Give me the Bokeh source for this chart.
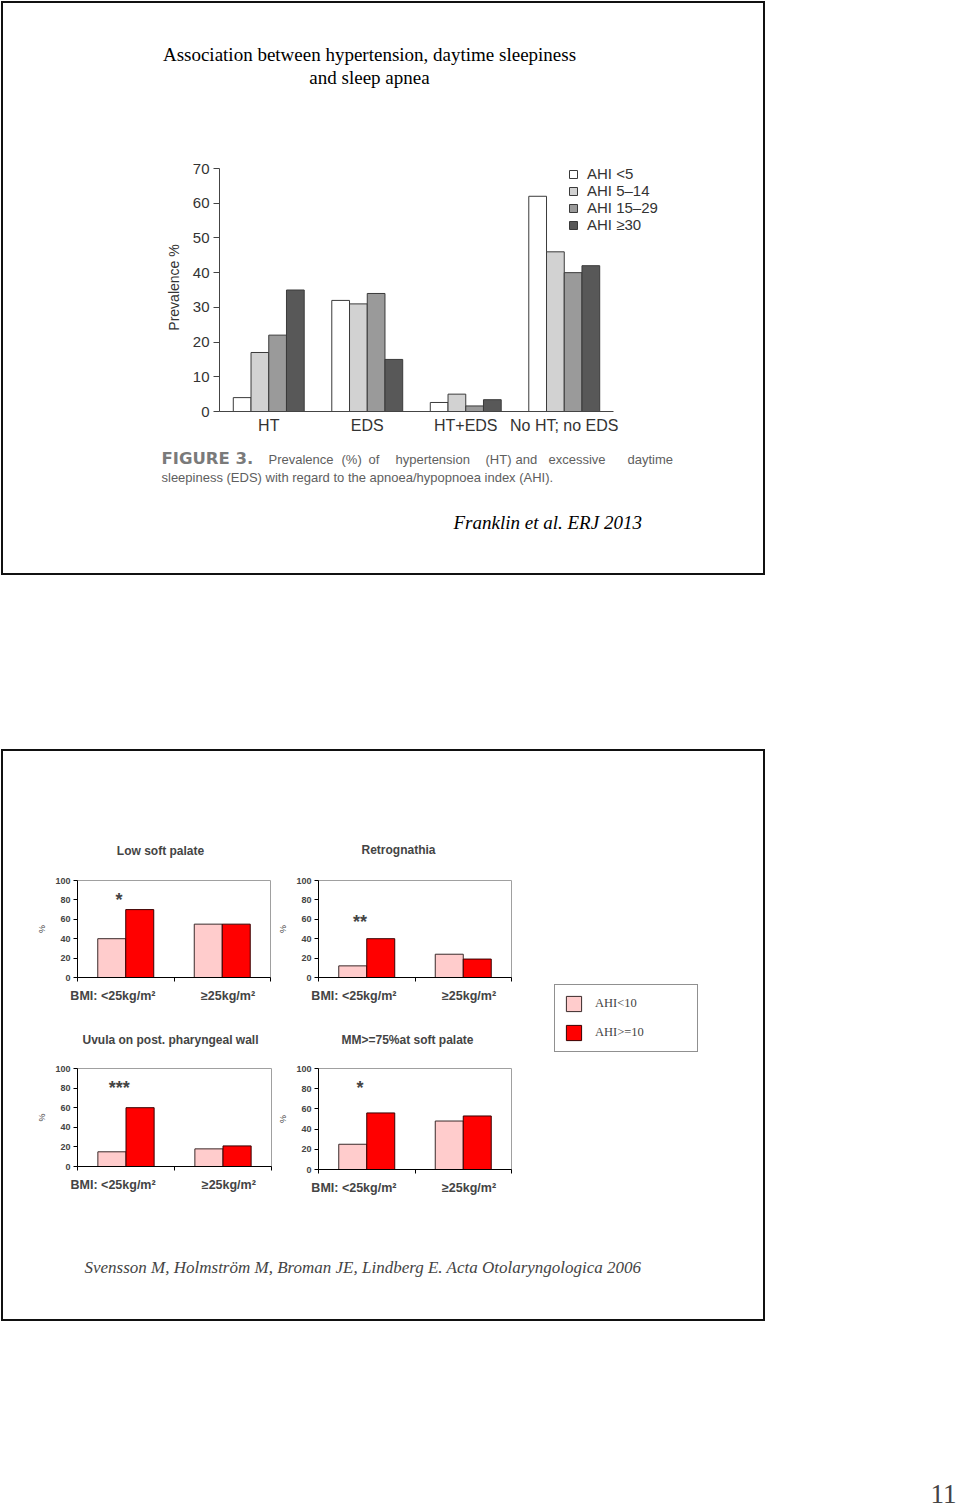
from bokeh.plotting import figure
from bokeh.models import (Range1d, FixedTicker, Label, Legend, LegendItem,
                          ColumnDataSource, Spacer)
from bokeh.layouts import column, row
from bokeh.embed import file_html
from bokeh.resources import INLINE

SANS = "Liberation Sans"
SERIF = "Liberation Serif"

# ------------------------------------------------------------------ data
# Slide 1 (Franklin et al. ERJ 2013, Figure 3)
GROUPS = ["HT", "EDS", "HT+EDS", "No HT; no EDS"]
AHI_LABELS = ["AHI <5", "AHI 5\u201314", "AHI 15\u201329", "AHI \u226530"]
AHI_LT5 = [4, 32, 2.6, 62]
AHI_5_14 = [17, 31, 5, 46]
AHI_15_29 = [22, 34, 1.6, 40]
AHI_GE30 = [35, 15, 3.4, 42]
Y1_TICKS = [0, 10, 20, 30, 40, 50, 60, 70]

# Slide 2 (Svensson et al. 2006)
BMI_LABELS = ["BMI:  <25kg/m\u00b2", "\u226525kg/m\u00b2"]
LEGEND2 = ["AHI<10", "AHI>=10"]
PANEL_TITLES = ["Low soft palate", "Retrognathia",
                "Uvula on post. pharyngeal wall", "MM>=75%at soft palate"]
LOW_SOFT_PALATE_LT10 = [40, 55]
LOW_SOFT_PALATE_GE10 = [70, 55]
RETROGNATHIA_LT10 = [12, 24]
RETROGNATHIA_GE10 = [40, 19]
UVULA_LT10 = [15, 18]
UVULA_GE10 = [60, 21]
MM75_LT10 = [25, 48]
MM75_GE10 = [56, 53]
STARS = ["*", "**", "***", "*"]
STAR_Y = [84, 61, 84, 85]
Y2_TICKS = [0, 20, 40, 60, 80, 100]

# ------------------------------------------------------------------ helpers
def fig(**kw):
    f = figure(output_backend="svg", toolbar_location=None, frame_align=False, **kw)
    f.grid.visible = False
    f.background_fill_color = None
    f.border_fill_color = None
    return f


def text_fig(w, h):
    f = fig(width=w, height=h, x_range=Range1d(0, 1), y_range=Range1d(0, 1),
            x_axis_location=None, y_axis_location=None, min_border=0)
    f.outline_line_color = None
    return f


def put(f, origin, h, x, y, text, **kw):
    """Place text at page position (x, y) in a text figure whose top-left is origin."""
    kw.setdefault("text_baseline", "middle")
    f.add_layout(Label(x=x - origin[0], y=origin[1] + h - y, x_units="screen",
                       y_units="screen", text=text, **kw))


OUTLINE = {"outline": "2.5px solid #111", "outline-offset": "-3px"}

# ------------------------------------------------------------------ slide 1
T1_O, T1_H = (0, 0), 150
t1 = text_fig(766, T1_H)
put(t1, T1_O, T1_H, 369, 54, "Association between hypertension, daytime sleepiness",
    text_align="center", text_font=SERIF, text_font_size="19px", text_color="#000")
put(t1, T1_O, T1_H, 369, 77, "and sleep apnea",
    text_align="center", text_font=SERIF, text_font_size="19px", text_color="#000")

C1_Y, C1_H = 150, 290
F1L, F1R, F1T, F1B = 219, 680, 163, 411
PX_PER_UNIT = (411 - 168) / 70.0               # 0..70 spans 168..411 px
Y1_END = (F1B - F1T) / PX_PER_UNIT
X1_END = len(GROUPS) * (F1R - F1L) / 394.0     # axis line spans 394 px for the 4 groups
p1 = fig(width=766, height=C1_H, x_range=Range1d(0, X1_END), y_range=Range1d(0, Y1_END),
         min_border_left=F1L, min_border_right=766 - F1R,
         min_border_top=F1T - C1_Y, min_border_bottom=C1_Y + C1_H - F1B)
p1.outline_line_color = None

series = [AHI_LT5, AHI_5_14, AHI_15_29, AHI_GE30]
colors1 = ["#ffffff", "#d2d2d2", "#9a9a9a", "#585858"]
bw = 0.18
items = []
for k, (vals, col, lab) in enumerate(zip(series, colors1, AHI_LABELS)):
    xs = [i + 0.5 + (k - 1.5) * bw for i in range(len(GROUPS))]
    r = p1.vbar(x=xs, top=vals, bottom=0, width=bw, fill_color=col,
                line_color="#3a3a3a", line_width=1)
    items.append(LegendItem(label=lab, renderers=[r]))

leg1 = Legend(items=items, location=(349, 178), border_line_color=None,
              background_fill_alpha=0, padding=0, margin=0, spacing=0,
              glyph_width=10, glyph_height=10, label_standoff=9,
              label_text_font=SANS, label_text_font_size="15px",
              label_text_color="#333", label_height=17)
p1.add_layout(leg1)

yax = p1.yaxis[0]
yax.bounds = (Y1_TICKS[0], Y1_TICKS[-1])
yax.ticker = FixedTicker(ticks=Y1_TICKS)
yax.axis_label = "Prevalence %"
yax.axis_label_text_font = SANS
yax.axis_label_text_font_style = "normal"
yax.axis_label_text_font_size = "14px"
yax.axis_label_text_color = "#333"
yax.axis_label_standoff = 8
yax.major_label_text_font = SANS
yax.major_label_text_font_size = "15px"
yax.major_label_text_color = "#333"
yax.major_tick_out = 6
yax.major_tick_in = 0
yax.minor_tick_out = 0
yax.major_label_standoff = 4
yax.axis_line_color = "#444"
yax.major_tick_line_color = "#444"

xax = p1.xaxis[0]
xax.bounds = (0, len(GROUPS))
xax.ticker = FixedTicker(ticks=[i + 0.5 for i in range(len(GROUPS))])
xax.major_label_overrides = {i + 0.5: g for i, g in enumerate(GROUPS)}
xax.major_tick_out = 0
xax.major_tick_in = 0
xax.minor_tick_out = 0
xax.major_label_standoff = 5
xax.major_label_text_font = SANS
xax.major_label_text_font_size = "16px"
xax.major_label_text_color = "#333"
xax.axis_line_color = "#444"

B1_O, B1_H = (0, 440), 136
b1 = text_fig(766, B1_H)
put(b1, B1_O, B1_H, 161, 458, "FIGURE 3.", text_font="DejaVu Sans", text_font_style="bold",
    text_font_size="16.5px", text_color="#7a7a7a")
cap_words = ["Prevalence", "(%)", "of", "hypertension", "(HT)", "and", "excessive", "daytime"]
cap_x = [268, 341, 368, 395, 485, 515, 548, 627]
for w_, xw in zip(cap_words, cap_x):
    put(b1, B1_O, B1_H, xw, 459, w_, text_font=SANS, text_font_size="13px",
        text_color="#5e5e5e")
put(b1, B1_O, B1_H, 161, 477,
    "sleepiness (EDS) with regard to the apnoea/hypopnoea index (AHI).",
    text_font=SANS, text_font_size="13px", text_color="#5e5e5e")
put(b1, B1_O, B1_H, 453, 522, "Franklin et al. ERJ 2013", text_font=SERIF,
    text_font_style="italic", text_font_size="19px", text_color="#000")

slide1 = column(t1, p1, b1)
slide1.styles = OUTLINE

# ------------------------------------------------------------------ slide 2
PANEL_DATA = [(LOW_SOFT_PALATE_LT10, LOW_SOFT_PALATE_GE10),
              (RETROGNATHIA_LT10, RETROGNATHIA_GE10),
              (UVULA_LT10, UVULA_GE10),
              (MM75_LT10, MM75_GE10)]
# layout only: title strip (page x, page y, w, h, title centre) and chart box + frame
PANEL_BOX = [
    dict(tx0=0, ty0=828, w=275, th=37, tt=(160, 850),
         cy=865, ch=140, fr=(77, 270, 880, 977)),
    dict(tx0=275, ty0=828, w=255, th=37, tt=(398, 849),
         cy=865, ch=140, fr=(315, 511, 880, 977)),
    dict(tx0=0, ty0=1005, w=275, th=50, tt=(170, 1039),
         cy=1055, ch=145, fr=(77, 271, 1068, 1166)),
    dict(tx0=275, ty0=1005, w=255, th=50, tt=(407, 1039),
         cy=1055, ch=145, fr=(315, 511, 1068, 1169)),
]
LABEL_TICKS = [0.385, 1.56]
PINK, RED = "#ffcccc", "#ff0000"
bw2 = 0.29

blocks = []
for idx, ((lt, ge), box) in enumerate(zip(PANEL_DATA, PANEL_BOX)):
    tf = text_fig(box["w"], box["th"])
    tx, ty = box["tt"]
    put(tf, (box["tx0"], box["ty0"]), box["th"], tx, ty, PANEL_TITLES[idx],
        text_align="center", text_font=SANS, text_font_style="bold", text_font_size="12px")

    fl, fr, ft, fb = box["fr"]
    p = fig(width=box["w"], height=box["ch"], x_range=Range1d(0, len(lt)),
            y_range=Range1d(0, 100),
            min_border_left=fl - box["tx0"], min_border_right=box["tx0"] + box["w"] - fr,
            min_border_top=ft - box["cy"], min_border_bottom=box["cy"] + box["ch"] - fb)
    p.outline_line_color = "#a0a0a0"
    p.outline_line_width = 1
    xs_lt = [i + 0.5 - bw2 / 2 for i in range(len(lt))]
    xs_ge = [i + 0.5 + bw2 / 2 for i in range(len(ge))]
    p.vbar(x=xs_lt, top=lt, bottom=0, width=bw2, fill_color=PINK, line_color="#3a2a2a",
           line_width=1)
    p.vbar(x=xs_ge, top=ge, bottom=0, width=bw2, fill_color=RED, line_color="#3a0000",
           line_width=1)

    ya = p.yaxis[0]
    ya.ticker = FixedTicker(ticks=Y2_TICKS)
    ya.axis_label = "%"
    ya.axis_label_text_font = SANS
    ya.axis_label_text_font_style = "normal"
    ya.axis_label_text_font_size = "9px"
    ya.axis_label_standoff = 5
    ya.major_label_text_font = SANS
    ya.major_label_text_font_style = "bold"
    ya.major_label_text_font_size = "9px"
    ya.major_label_standoff = 3
    ya.major_tick_out = 4
    ya.major_tick_in = 0
    ya.minor_tick_out = 0
    ya.axis_line_color = "#000"

    xa = p.xaxis[0]
    xa.ticker = FixedTicker(ticks=LABEL_TICKS, minor_ticks=list(range(len(lt) + 1)))
    xa.major_label_overrides = {t: l for t, l in zip(LABEL_TICKS, BMI_LABELS)}
    xa.major_tick_out = 0
    xa.major_tick_in = 0
    xa.minor_tick_out = 4
    xa.minor_tick_in = 0
    xa.minor_tick_line_color = "#000"
    xa.major_label_standoff = 7
    xa.major_label_text_font = SANS
    xa.major_label_text_font_style = "bold"
    xa.major_label_text_font_size = "12.5px"
    xa.axis_line_color = "#000"

    p.add_layout(Label(x=0.5 - 0.07, y=STAR_Y[idx], text=STARS[idx], text_align="center",
                       text_baseline="middle", y_offset=-4, text_font=SANS,
                       text_font_style="bold", text_font_size="18px"))
    blocks.append((tf, p))

# legend of slide 2 (swatch proxies sit outside the visible range)
pl = text_fig(236, 80)
proxy = ColumnDataSource(data=dict(x=[-1.0], top=[0.0]))
r_pink = pl.vbar(x="x", top="top", width=0.1, source=proxy, fill_color=PINK,
                 line_color="#3a2a2a")
r_red = pl.vbar(x="x", top="top", width=0.1, source=proxy, fill_color=RED,
                line_color="#3a0000")
leg2 = Legend(items=[LegendItem(label=LEGEND2[0], renderers=[r_pink]),
                     LegendItem(label=LEGEND2[1], renderers=[r_red])],
              location=(24, 8), border_line_color="#222", border_line_width=1,
              background_fill_color="white", background_fill_alpha=1,
              padding=9, margin=0, spacing=10, glyph_width=19, glyph_height=19,
              label_standoff=12, label_width=93, label_height=19,
              label_text_font=SERIF, label_text_font_size="12.5px")
pl.add_layout(leg2)

PC_O, PC_H = (0, 1200), 122
pc = text_fig(766, PC_H)
put(pc, PC_O, PC_H, 84, 1267,
    "Svensson M, Holmstr\u00f6m M, Broman JE, Lindberg E. Acta Otolaryngologica 2006",
    text_font=SERIF, text_font_style="italic", text_font_size="17px")

colA = column(blocks[0][0], blocks[0][1], blocks[2][0], blocks[2][1])
colB = column(blocks[1][0], blocks[1][1], blocks[3][0], blocks[3][1])
colC = column(Spacer(width=236, height=152), pl, Spacer(width=236, height=140))
slide2 = column(Spacer(width=766, height=80), row(colA, colB, colC), pc)
slide2.styles = OUTLINE

# page number
PN_O, PN_H = (0, 1322), 185
pn = text_fig(960, PN_H)
put(pn, PN_O, PN_H, 956, 1493, "11", text_align="right", text_font=SERIF,
    text_font_size="27px")

page = column(slide1, Spacer(width=766, height=172), slide2, pn)

open("out.html", "w").write(file_html(page, INLINE))
